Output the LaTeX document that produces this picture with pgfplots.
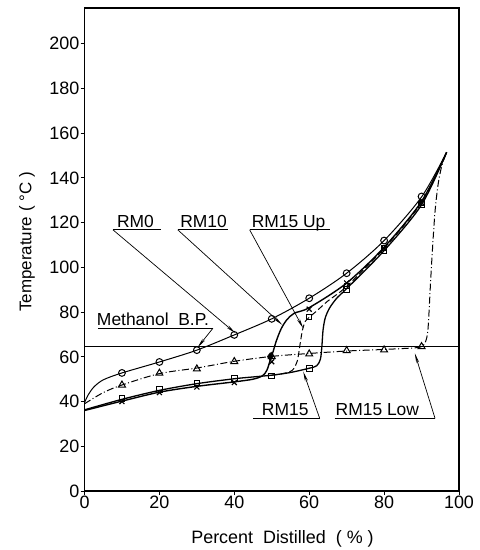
\documentclass[border=0pt]{standalone}
\usepackage{fontspec}
\setmainfont{Liberation Sans}
\usepackage{pgfplots}
\pgfplotsset{compat=1.18}
\usetikzlibrary{arrows.meta}

% Distillation curves: temperature against percent distilled
\pgfplotstableread{
x y
0 39.5
1 43
2.5 46.5
5 49.7
10 52.8
20 57.7
30 63
40 69.8
50 77
60 86.2
70 97.4
80 112
90 131.5
96.7 151.5
}\rmzero
\pgfplotstableread{
x y
10 52.8
20 57.7
30 63
40 69.8
50 77
60 86.2
70 97.4
80 112
90 131.7
}\rmzeromarks

\pgfplotstableread{
x y
0 36
10 40.2
20 44.2
30 46.8
40 48.8
45 50
47.5 51.5
48.7 54
49.5 58
50.3 62
51.2 67
52.5 72.5
54 76.5
56 79.5
60 82
70 93
80 109
90 129.5
96.7 151.5
}\rmten
\pgfplotstableread{
x y
10 40
20 44
30 46.5
40 48.5
50 57.8
60 81.3
70 93
80 108.5
90 129
}\rmtenmarks

\pgfplotstableread{
x y
0 36.3
10 41
20 45
30 48
40 50.2
45 51
50 51.8
55 53
60 54.9
62 56
63 59
63.4 65
63.7 72
64.3 77.5
65.5 82
67.5 86.5
70 90.5
80 107.5
90 128
96.7 151.5
}\rmfifteen
\pgfplotstableread{
x y
10 41.5
20 45.3
30 48.3
40 50.3
50 51.5
60 54.9
70 90
80 107.5
90 128
}\rmfifteenmarks

\pgfplotstableread{
x y
50 51.8
53 52.5
55.5 54
56.8 58
57.5 65
58.2 72
59 76
60 77.7
62 80.5
65 85
70 91.5
80 108.5
90 129
96.7 151.5
}\rmup
\pgfplotstableread{
x y
60 77.7
70 91.5
80 108.5
90 129
}\rmupmarks

\pgfplotstableread{
x y
0 39
5 44
10 47.4
20 52.5
30 55
40 58
50 60.2
60 61.5
70 62.6
80 63.3
88 64
90 64.6
91 66.5
91.7 72
92.3 90
92.8 105
93.6 125
94.5 138
95.5 146
96.7 151.5
}\rmlow
\pgfplotstableread{
x y
10 47.4
20 52.7
30 54.6
40 57.9
50 60.1
60 61.3
70 62.8
80 63.1
90 64.6
}\rmlowmarks

\begin{document}
\begin{tikzpicture}
\useasboundingbox (0,0) rectangle (480bp,550bp);
\begin{axis}[
  at={(84.5bp,59bp)}, anchor=south west,
  scale only axis, width=374.5bp, height=483bp,
  xmin=0, xmax=100, ymin=0, ymax=216,
  xtick={0,20,...,100}, ytick={0,20,...,200},
  tick pos=left, tick align=outside,
  major tick length=4bp,
  axis line style={line width=1.3bp},
  every tick/.style={line width=1bp, black},
  /pgf/number format/assume math mode=true,
  tick label style={font=\fontsize{18}{18}\selectfont},
  yticklabel style={inner xsep=1bp},
  xticklabel style={inner ysep=1bp},
  clip=false,
]
% Methanol boiling point
\addplot[black, line width=0.9bp] coordinates {(0,64.7) (100,64.7)};

\addplot[black, line width=1bp, smooth, tension=0.5] table {\rmzero};
\addplot[black, only marks, mark=o, mark size=3.4bp, mark options={line width=1bp, fill=white}] table {\rmzeromarks};

\addplot[black, line width=1.4bp, smooth, tension=0.5] table {\rmten};
\addplot[black, only marks, mark=x, mark size=3.5bp, mark options={line width=1.1bp}] table {\rmtenmarks};
\addplot[black, only marks, mark=diamond*, mark size=4bp] coordinates {(49.6,60.1)};

\addplot[black, line width=1.3bp, smooth, tension=0.5] table {\rmfifteen};
\addplot[black, only marks, mark=square, mark size=2.8bp, mark options={line width=1bp, fill=white}] table {\rmfifteenmarks};

\addplot[black, line width=1bp, dashed, dash pattern=on 6bp off 3bp, smooth, tension=0.5] table {\rmup};
\addplot[black, only marks, mark=square, mark size=2.5bp, mark options={line width=1bp, fill=white}] table {\rmupmarks};

\addplot[black, line width=1bp, dash pattern=on 7bp off 2.5bp on 1bp off 2.5bp, smooth, tension=0.5] table {\rmlow};
\addplot[black, only marks, mark=triangle, mark size=4bp, mark options={line width=1bp, fill=white}] table {\rmlowmarks};

% Curve labels with leaders
\begin{scope}[line width=0.7bp, every node/.style={font=\fontsize{17.5}{17.5}\selectfont, anchor=base, inner sep=0pt, yshift=2.5bp}]
\draw (axis cs:7.6,116.8) -- (axis cs:20.5,116.8);
\node at (axis cs:13.6,116.8) {RM0};
\draw[-{Stealth[length=10bp,width=3bp]}] (axis cs:7.6,116.8) -- (axis cs:40.3,70.6);

\draw (axis cs:24.9,116.8) -- (axis cs:38.3,116.8);
\node at (axis cs:31.8,116.8) {RM10};
\draw[-{Stealth[length=10bp,width=3bp]}] (axis cs:24.9,116.8) -- (axis cs:52.8,74.3);

\draw (axis cs:44.1,116.8) -- (axis cs:65.5,116.8);
\node at (axis cs:54.5,116.8) {RM15 Up};
\draw[-{Stealth[length=10bp,width=3bp]}] (axis cs:44.1,116.8) -- (axis cs:58.4,72.8);

\draw (axis cs:3.6,72.8) -- (axis cs:34.3,72.8);
\node at (axis cs:18.3,72.8) {Methanol\ \ B.P.};
\draw[-{Stealth[length=10bp,width=3bp]}] (axis cs:34.3,72.8) -- (axis cs:30.2,64.2);

\draw (axis cs:45,32.5) -- (axis cs:62.8,32.5);
\node at (axis cs:53.6,32.5) {RM15};
\draw[-{Stealth[length=10bp,width=3bp]}] (axis cs:62.8,32.5) -- (axis cs:58.4,53.4);

\draw (axis cs:66.8,32.5) -- (axis cs:93.6,32.5);
\node at (axis cs:78.2,32.5) {RM15 Low};
\draw[-{Stealth[length=10bp,width=3bp]}] (axis cs:93.6,32.5) -- (axis cs:88.2,61.6);
\end{scope}
\end{axis}
\node[font=\fontsize{17}{17}\selectfont, rotate=90] at (27bp,308bp) {Temperature ( °C )};
\node[font=\fontsize{18}{18}\selectfont, anchor=base] at (282.5bp,7bp) {Percent\ \ Distilled\ \ ( \% )};
\end{tikzpicture}
\end{document}
